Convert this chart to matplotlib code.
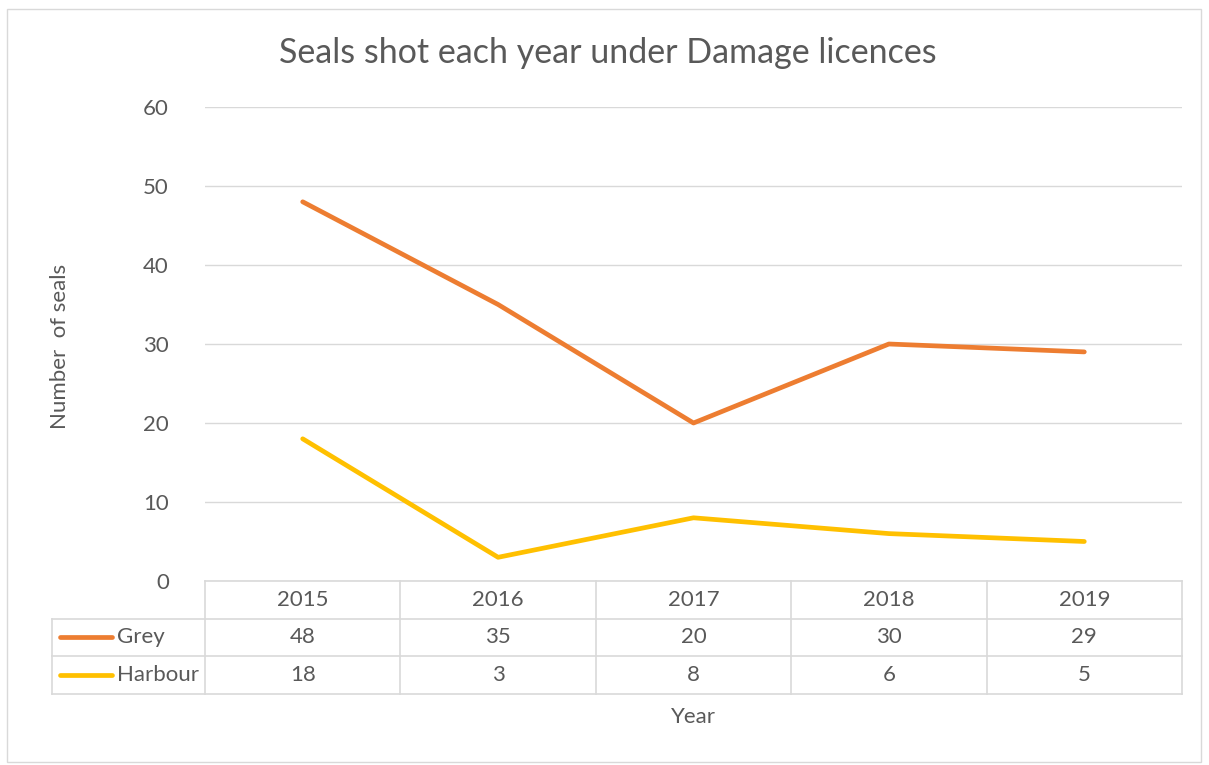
import matplotlib
matplotlib.use("Agg")
import matplotlib.pyplot as plt
from matplotlib.patches import Rectangle

years = ["2015", "2016", "2017", "2018", "2019"]
grey = [48, 35, 20, 30, 29]
harbour = [18, 3, 8, 6, 5]
series_names = ["Grey", "Harbour"]
yticks = [0, 10, 20, 30, 40, 50, 60]

orange = "#ED7D31"
yellow = "#FFC000"
txt = "#595959"
gridc = "#D9D9D9"
fs = 16

plt.rcParams['font.family'] = ['Lato', 'DejaVu Sans']

W, H = 1209, 765
fig = plt.figure(figsize=(W / 100, H / 100), dpi=100)

# outer chart border
fig.patches.append(Rectangle((7 / W, 3 / H), 1194 / W, 753 / H, transform=fig.transFigure,
                             fill=False, edgecolor=gridc, linewidth=1.0))

left, right, top, bottom = 205, 1182, 107, 581
ax = fig.add_axes([left / W, 1 - bottom / H, (right - left) / W, (bottom - top) / H])

x = range(len(years))
ax.plot(x, grey, color=orange, linewidth=3.4, solid_capstyle='round')
ax.plot(x, harbour, color=yellow, linewidth=3.4, solid_capstyle='round')

ax.set_xlim(-0.5, len(years) - 0.5)
ax.set_ylim(0, 60)
ax.set_yticks(yticks)
ax.set_xticks([])
ax.yaxis.grid(True, color=gridc, linewidth=1.0)
ax.set_axisbelow(True)
for s in ax.spines.values():
    s.set_visible(False)
ax.tick_params(axis='y', length=0, pad=26, labelsize=fs, labelcolor=txt)

# data table under the plot
row_h = 37.5 / (bottom - top)
lab_x = (52 - left) / (right - left)
ncol = len(years)
tb = ax.transAxes
kw = dict(color=gridc, linewidth=1.2, transform=tb, clip_on=False)
ax.plot([0, 1], [0, 0], **kw)
for r in range(1, 4):
    ax.plot([lab_x, 1], [-r * row_h, -r * row_h], **kw)
ax.plot([lab_x, lab_x], [-row_h, -3 * row_h], **kw)
for c in range(ncol + 1):
    ax.plot([c / ncol, c / ncol], [0, -3 * row_h], **kw)

for c, yr in enumerate(years):
    xc = (c + 0.5) / ncol
    ax.text(xc, -0.5 * row_h, yr, transform=tb, ha='center', va='center', fontsize=fs, color=txt)
    ax.text(xc, -1.5 * row_h, str(grey[c]), transform=tb, ha='center', va='center', fontsize=fs, color=txt)
    ax.text(xc, -2.5 * row_h, str(harbour[c]), transform=tb, ha='center', va='center', fontsize=fs, color=txt)

key_x0 = (60 - left) / (right - left)
key_x1 = (112 - left) / (right - left)
for i, (name, col) in enumerate(zip(series_names, [orange, yellow])):
    yc = -(1.5 + i) * row_h
    ax.plot([key_x0, key_x1], [yc, yc], color=col, linewidth=3.4, solid_capstyle='round',
            transform=tb, clip_on=False)
    ax.text((117 - left) / (right - left), yc, name, transform=tb, ha='left', va='center',
            fontsize=fs, color=txt)

fig.text(693 / W, 1 - 717 / H, "Year", ha='center', va='center', fontsize=fs, color=txt)
fig.text(60 / W, 1 - 346 / H, "Number  of seals", ha='center', va='center', rotation=90,
         fontsize=fs, color=txt)
fig.text(608 / W, 1 - 53 / H, "Seals shot each year under Damage licences", ha='center',
         va='center', fontsize=24.5, color=txt)

fig.savefig("out.png", dpi=100, facecolor="white")
